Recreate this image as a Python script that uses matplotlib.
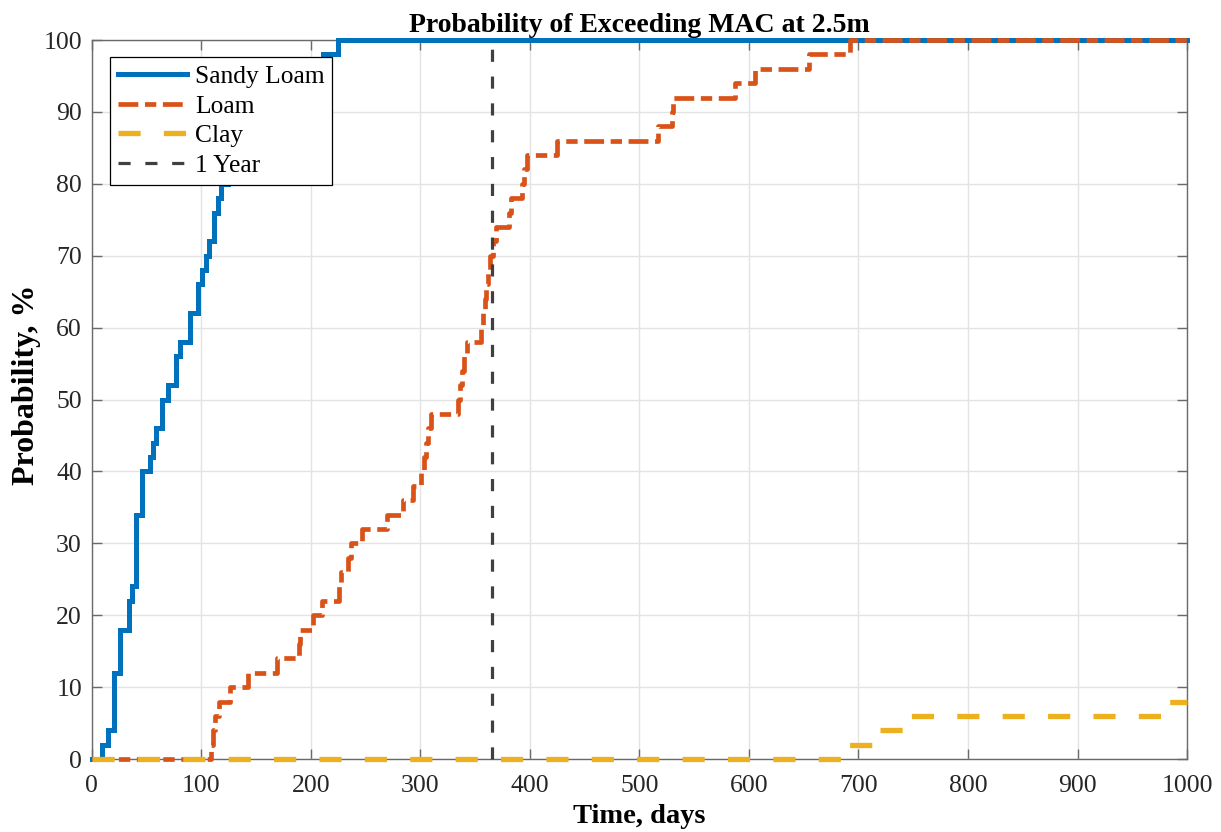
import matplotlib
matplotlib.use("Agg")
import matplotlib.pyplot as plt

plt.rcParams['font.family'] = ['Liberation Serif', 'DejaVu Serif']

# ---- data (step curves: value holds from given day onward) ----
sandy_days = [0, 9, 15, 20, 26, 34, 37, 40, 46, 53, 56, 59, 64, 70, 77, 81, 90, 97, 101, 104,
              107, 112, 115, 118, 124, 130, 138, 146, 155, 166, 180, 195, 211, 225, 1000]
sandy_vals = [0, 2, 4, 12, 18, 22, 24, 34, 40, 42, 44, 46, 50, 52, 56, 58, 62, 66, 68, 70,
              72, 76, 78, 80, 82, 84, 86, 88, 90, 92, 94, 96, 98, 100, 100]

loam_days = [0, 109, 111, 113, 116, 126, 143, 169, 189, 190, 202, 210, 226, 228, 234, 237, 247,
             270, 284, 293, 301, 303, 305, 307, 310, 334, 336, 338, 340, 343, 355, 357, 359, 360,
             362, 364, 366, 369, 381, 383, 393, 395, 397, 425, 517, 530, 531, 587, 606, 655, 692, 1000]
loam_vals = [0, 2, 4, 6, 8, 10, 12, 14, 16, 18, 20, 22, 24, 26, 28, 30, 32,
             34, 36, 38, 40, 42, 44, 46, 48, 50, 52, 54, 56, 58, 60, 62, 64, 66,
             68, 70, 72, 74, 76, 78, 80, 82, 84, 86, 88, 90, 92, 94, 96, 98, 100, 100]

clay_days = [0, 688, 716, 745, 982, 1000]
clay_vals = [0, 2, 4, 6, 8, 8]

year_day = 365
year_line = [0, 100]

labels = ['Sandy Loam', 'Loam', 'Clay', '1 Year']
xticks = list(range(0, 1001, 100))
yticks = list(range(0, 101, 10))

c_blue = '#0072BD'
c_orange = '#D95319'
c_yellow = '#EDB120'
c_gray = '#404040'

fig = plt.figure(figsize=(12.21, 8.32), dpi=100)
ax = fig.add_axes([0.0751, 0.0877, 0.8971, 0.8642])

ax.plot(sandy_days, sandy_vals, drawstyle='steps-post', color=c_blue, lw=3.6,
        solid_joinstyle='miter', label=labels[0], clip_on=False, zorder=3)
l2, = ax.plot(loam_days, loam_vals, drawstyle='steps-post', color=c_orange, lw=3.4,
              label=labels[1], clip_on=False, zorder=4)
l2.set_dashes([4.2, 1.4, 2.4, 1.4])
l3, = ax.plot(clay_days, clay_vals, drawstyle='steps-post', color=c_yellow, lw=3.8,
              label=labels[2], clip_on=False, zorder=5)
l3.set_dashes([4.2, 4.4])
l4, = ax.plot([year_day, year_day], year_line, color=c_gray, lw=2.3,
              label=labels[3], clip_on=False, zorder=6)
l4.set_dashes([3.8, 4.6])

ax.set_xlim(0, 1000)
ax.set_ylim(0, 100)
ax.set_xticks(xticks)
ax.set_yticks(yticks)
ax.grid(True, color='#e3e3e3', lw=1.0, zorder=0)
ax.set_axisbelow(True)
for s in ax.spines.values():
    s.set_color('#6a6a6a')
    s.set_linewidth(1.0)
ax.tick_params(direction='in', length=7, width=1.0, color='#6a6a6a',
               top=True, right=True, labelsize=18.5, labelcolor='#262626')
ax.tick_params(axis='x', pad=11.5)
ax.tick_params(axis='y', pad=7)

ax.set_title('Probability of Exceeding MAC at 2.5m', fontsize=20, fontweight='bold', pad=5.5)
ax.set_xlabel('Time, days', fontsize=20.5, fontweight='bold', labelpad=5)
ax.set_ylabel('Probability, %', fontsize=23, fontweight='bold')
ax.yaxis.set_label_coords(-0.046, 0.52)

leg = ax.legend(loc='upper left', bbox_to_anchor=(0.0167, 0.976), borderaxespad=0,
                fontsize=18.4, fancybox=False, edgecolor='black', framealpha=1,
                handlelength=2.73, handletextpad=0.3, borderpad=0.3, labelspacing=0.27)
leg.get_frame().set_linewidth(0.9)
leg.set_zorder(10)

fig.savefig('out.png', dpi=100)
